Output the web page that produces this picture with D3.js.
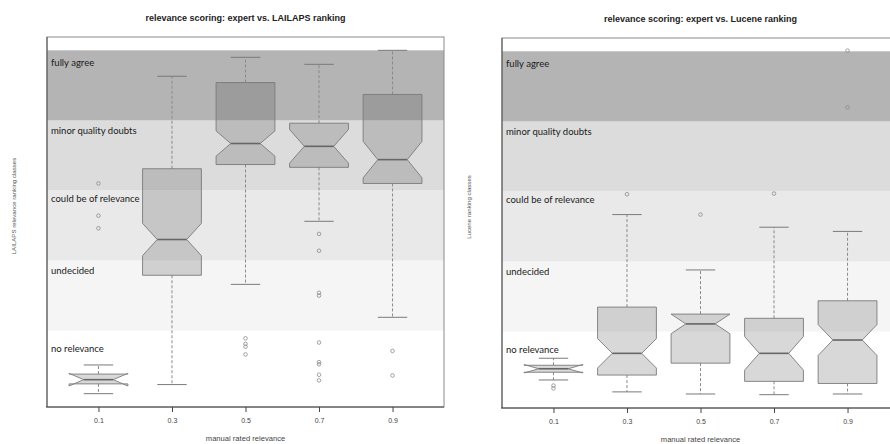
<!DOCTYPE html>
<html>
<head>
<meta charset="utf-8">
<script src="https://cdn.jsdelivr.net/npm/d3@7"></script>
<style>
  body { margin: 0; background: #fff; }
</style>
</head>
<body>
<svg id="chart" width="890" height="444"></svg>
<script>
// categories on x (manual rated relevance)
const categories = ["0.1", "0.3", "0.5", "0.7", "0.9"];
// ranking classes, bottom to top (one unit each on y)
const classes = ["no relevance", "undecided", "could be of relevance", "minor quality doubts", "fully agree"];
const bandFill = ["#ffffff", "#f5f5f5", "#e9e9e9", "#dcdcdc", "#b4b4b4"];
const bandLabelAt = [0.73, 0.84, 0.87, 0.84, 0.81];

// LAILAPS ranking boxplot stats
const lailapsLo    = [0.10, 0.23, 1.66, 2.56, 1.19];
const lailapsQ1    = [0.24, 1.79, 3.37, 3.33, 3.10];
const lailapsMed   = [0.30, 2.30, 3.67, 3.63, 3.44];
const lailapsQ3    = [0.38, 3.31, 4.54, 3.96, 4.37];
const lailapsHi    = [0.51, 4.63, 4.90, 4.80, 5.00];
const lailapsNotch = [0.09, 0.23, 0.18, 0.24, 0.26];
const lailapsOut   = [[3.10, 2.64, 2.46], [], [0.89, 0.81, 0.77, 0.66],
                      [2.38, 2.14, 1.54, 1.50, 0.83, 0.55, 0.52, 0.37, 0.29], [0.71, 0.36]];

// Lucene ranking boxplot stats
const luceneLo    = [0.31, 0.14, 0.11, 0.10, 0.11];
const luceneQ1    = [0.42, 0.38, 0.55, 0.29, 0.26];
const luceneMed   = [0.47, 0.69, 1.11, 0.69, 0.88];
const luceneQ3    = [0.52, 1.35, 1.25, 1.19, 1.44];
const luceneHi    = [0.62, 2.67, 1.88, 2.49, 2.43];
const luceneNotch = [0.06, 0.21, 0.14, 0.24, 0.22];
const luceneOut   = [[0.23, 0.19], [2.96], [2.67], [2.97], [5.01, 4.20]];

const svg = d3.select("#chart");
const W = 397, H = 370;

function drawPanel(left, top, title, ylab, lo, q1, med, q3, hi, notch, outs, clipId) {
  const x = d3.scaleLinear().domain([0.3, 5.7]).range([0, W]);
  const y = d3.scaleLinear().domain([-0.09, 5.19]).range([H, 0]);

  const g = svg.append("g").attr("transform", "translate(" + left + "," + top + ")");

  svg.append("clipPath").attr("id", clipId)
    .append("rect").attr("x", 0).attr("y", 0).attr("width", W).attr("height", H);

  const plot = g.append("g").attr("clip-path", "url(#" + clipId + ")");

  // background bands for the ranking classes
  plot.selectAll(".band").data(classes).enter().append("rect")
    .attr("x", 0)
    .attr("width", W)
    .attr("y", (d, i) => y(i + 1))
    .attr("height", (d, i) => y(i) - y(i + 1) + (i === 0 ? H : 0))
    .attr("fill", (d, i) => bandFill[i]);

  plot.selectAll(".band-label").data(classes).enter().append("text")
    .attr("x", 4)
    .attr("y", (d, i) => y(i + bandLabelAt[i]))
    .attr("dominant-baseline", "middle")
    .style("font-family", "Lato, 'Open Sans', sans-serif")
    .style("font-size", "9.5px")
    .style("fill", "#1a1a1a")
    .text(d => d);

  const boxes = categories.map((c, i) => ({
    pos: i + 1, lo: lo[i], q1: q1[i], med: med[i], q3: q3[i], hi: hi[i], n: notch[i], out: outs[i]
  }));

  const hw = 0.4, cap = 0.2;

  const b = plot.selectAll(".box").data(boxes).enter().append("g");

  // whiskers
  b.append("line")
    .attr("x1", d => x(d.pos)).attr("x2", d => x(d.pos))
    .attr("y1", d => y(d.q3)).attr("y2", d => y(d.hi))
    .attr("stroke", "#8a8a8a").attr("stroke-dasharray", "3,2");
  b.append("line")
    .attr("x1", d => x(d.pos)).attr("x2", d => x(d.pos))
    .attr("y1", d => y(d.q1)).attr("y2", d => y(d.lo))
    .attr("stroke", "#8a8a8a").attr("stroke-dasharray", "3,2");
  b.append("line")
    .attr("x1", d => x(d.pos - cap)).attr("x2", d => x(d.pos + cap))
    .attr("y1", d => y(d.hi)).attr("y2", d => y(d.hi))
    .attr("stroke", "#7a7a7a");
  b.append("line")
    .attr("x1", d => x(d.pos - cap)).attr("x2", d => x(d.pos + cap))
    .attr("y1", d => y(d.lo)).attr("y2", d => y(d.lo))
    .attr("stroke", "#7a7a7a");

  // notched box, R style
  b.append("polygon")
    .attr("points", d => [
        [d.pos - hw, d.q1], [d.pos - hw, d.med - d.n], [d.pos - hw / 2, d.med],
        [d.pos - hw, d.med + d.n], [d.pos - hw, d.q3], [d.pos + hw, d.q3],
        [d.pos + hw, d.med + d.n], [d.pos + hw / 2, d.med], [d.pos + hw, d.med - d.n],
        [d.pos + hw, d.q1]
      ].map(p => x(p[0]) + "," + y(p[1])).join(" "))
    .attr("fill", "rgba(60,60,60,0.2)")
    .attr("stroke", "#7a7a7a")
    .attr("stroke-width", 0.9);

  b.append("line")
    .attr("x1", d => x(d.pos - hw / 2)).attr("x2", d => x(d.pos + hw / 2))
    .attr("y1", d => y(d.med)).attr("y2", d => y(d.med))
    .attr("stroke", "#666").attr("stroke-width", 1.6);

  // outliers
  b.selectAll("circle").data(d => d.out.map(v => ({ pos: d.pos, v: v }))).enter()
    .append("circle")
    .attr("cx", d => x(d.pos)).attr("cy", d => y(d.v))
    .attr("r", 1.8)
    .attr("fill", "none")
    .attr("stroke", "#8c8c8c")
    .attr("stroke-width", 0.8);

  // frame
  g.append("rect").attr("x", 0).attr("y", 0).attr("width", W).attr("height", H)
    .attr("fill", "none").attr("stroke", "#8a8a8a");
  g.append("line").attr("x1", 0).attr("x2", 0).attr("y1", 0).attr("y2", H)
    .attr("stroke", "#555");
  g.append("line").attr("x1", -1).attr("x2", W).attr("y1", H).attr("y2", H)
    .attr("stroke", "#444");

  // x axis
  const ax = g.append("g").attr("transform", "translate(0," + H + ")")
    .call(d3.axisBottom(x).tickValues([1, 2, 3, 4, 5])
      .tickFormat(d => categories[d - 1]).tickSize(5).tickPadding(6));
  ax.select(".domain").remove();
  ax.selectAll("line").attr("stroke", "#444");
  ax.selectAll("text")
    .style("font-family", "'Liberation Sans', Arial, sans-serif")
    .style("font-size", "7px")
    .style("fill", "#444");

  g.append("text")
    .attr("x", W / 2).attr("y", H + 34)
    .attr("text-anchor", "middle")
    .style("font-family", "'Liberation Sans', Arial, sans-serif")
    .style("font-size", "7.6px")
    .style("fill", "#444")
    .text("manual rated relevance");

  g.append("text")
    .attr("x", W / 2).attr("y", -16)
    .attr("text-anchor", "middle")
    .style("font-family", "'Liberation Sans', Arial, sans-serif")
    .style("font-size", "9px")
    .style("font-weight", "bold")
    .style("fill", "#222")
    .text(title);

  g.append("text")
    .attr("transform", "translate(-31," + 169 + ") rotate(-90)")
    .attr("text-anchor", "middle")
    .style("font-family", "'Liberation Sans', Arial, sans-serif")
    .style("font-size", "6.1px")
    .style("fill", "#555")
    .text(ylab);
}

drawPanel(47, 37, "relevance scoring: expert vs. LAILAPS ranking", "LAILAPS relevance ranking classes",
  lailapsLo, lailapsQ1, lailapsMed, lailapsQ3, lailapsHi, lailapsNotch, lailapsOut, "clipL");
drawPanel(502, 38, "relevance scoring: expert vs. Lucene ranking", "Lucene ranking classes",
  luceneLo, luceneQ1, luceneMed, luceneQ3, luceneHi, luceneNotch, luceneOut, "clipR");
</script>
</body>
</html>
